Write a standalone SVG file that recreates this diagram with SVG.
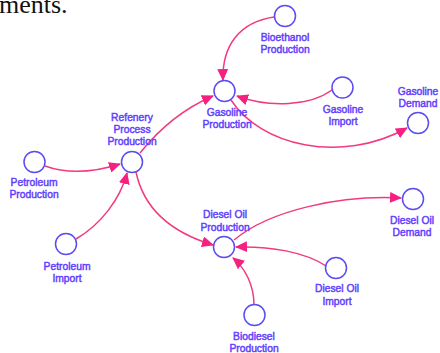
<svg xmlns="http://www.w3.org/2000/svg" width="440" height="353" viewBox="0 0 440 353">
<style>
.n circle{fill:#fff;stroke:#5a4cf0;stroke-width:1.5}
.n text{font-family:"Liberation Sans",Arial,sans-serif;font-size:10.3px;fill:#5f40ff;stroke:#5f40ff;stroke-width:0.45;text-anchor:middle}
.c path{fill:none;stroke:#f23a80;stroke-width:1.5}
.doc{font-family:"Liberation Serif","Times New Roman",serif;font-size:26px;fill:#111}
</style>
<defs>
<marker id="ah" markerUnits="userSpaceOnUse" markerWidth="13" markerHeight="11" refX="11" refY="5.5" orient="auto">
<path d="M0,0 L12,5.5 L0,11 Z" fill="#f5207f"/>
</marker>
</defs>
<rect width="440" height="353" fill="#fff"/>
<text class="doc" x="-1" y="13">ments.</text>
<g class="c">
<path d="M274,17 C240,22 222,45 223,80" marker-end="url(#ah)"/>
<path d="M332,90 C310,106 270,108 237,96" marker-end="url(#ah)"/>
<path d="M231,100 C260,145 340,165 407,128" marker-end="url(#ah)"/>
<path d="M140,153 C160,128 185,108 213,96" marker-end="url(#ah)"/>
<path d="M45,166 C70,175 95,172 120,164" marker-end="url(#ah)"/>
<path d="M76,239 C100,225 120,200 127,173" marker-end="url(#ah)"/>
<path d="M136,172 C145,215 180,235 213,245" marker-end="url(#ah)"/>
<path d="M234,240 C270,210 340,195 401,198" marker-end="url(#ah)"/>
<path d="M326,266 C305,252 270,246 236,247" marker-end="url(#ah)"/>
<path d="M254,305 C254,285 245,268 233,258" marker-end="url(#ah)"/>
</g>
<g id="bioethanol" class="n"><circle cx="285" cy="16" r="10.5"/><text x="285" y="41">Bioethanol</text><text x="285" y="53">Production</text></g>
<g id="gasoline-production" class="n"><circle cx="224.5" cy="91" r="10.5"/><text x="227" y="116">Gasoline</text><text x="227" y="128">Production</text></g>
<g id="gasoline-import" class="n"><circle cx="342.5" cy="87.5" r="10.5"/><text x="343" y="113">Gasoline</text><text x="343" y="125">Import</text></g>
<g id="gasoline-demand" class="n"><circle cx="418" cy="123" r="10.5"/><text x="418" y="95">Gasoline</text><text x="418" y="107">Demand</text></g>
<g id="refenery" class="n"><circle cx="132" cy="162" r="10.5"/><text x="132" y="121">Refenery</text><text x="132" y="133">Process</text><text x="132" y="145">Production</text></g>
<g id="petroleum-production" class="n"><circle cx="34.5" cy="162" r="10.5"/><text x="34" y="186">Petroleum</text><text x="34" y="198">Production</text></g>
<g id="petroleum-import" class="n"><circle cx="66" cy="244" r="10.5"/><text x="67" y="270">Petroleum</text><text x="67" y="282">Import</text></g>
<g id="diesel-production" class="n"><circle cx="224" cy="247" r="10.5"/><text x="225" y="218">Diesel Oil</text><text x="225" y="231">Production</text></g>
<g id="diesel-demand" class="n"><circle cx="413" cy="199" r="10.5"/><text x="412" y="224">Diesel Oil</text><text x="412" y="236">Demand</text></g>
<g id="diesel-import" class="n"><circle cx="336" cy="268" r="10.5"/><text x="337" y="292">Diesel Oil</text><text x="337" y="305">Import</text></g>
<g id="biodiesel" class="n"><circle cx="254.5" cy="315" r="10.5"/><text x="254" y="340">Biodiesel</text><text x="254" y="352">Production</text></g>
</svg>
